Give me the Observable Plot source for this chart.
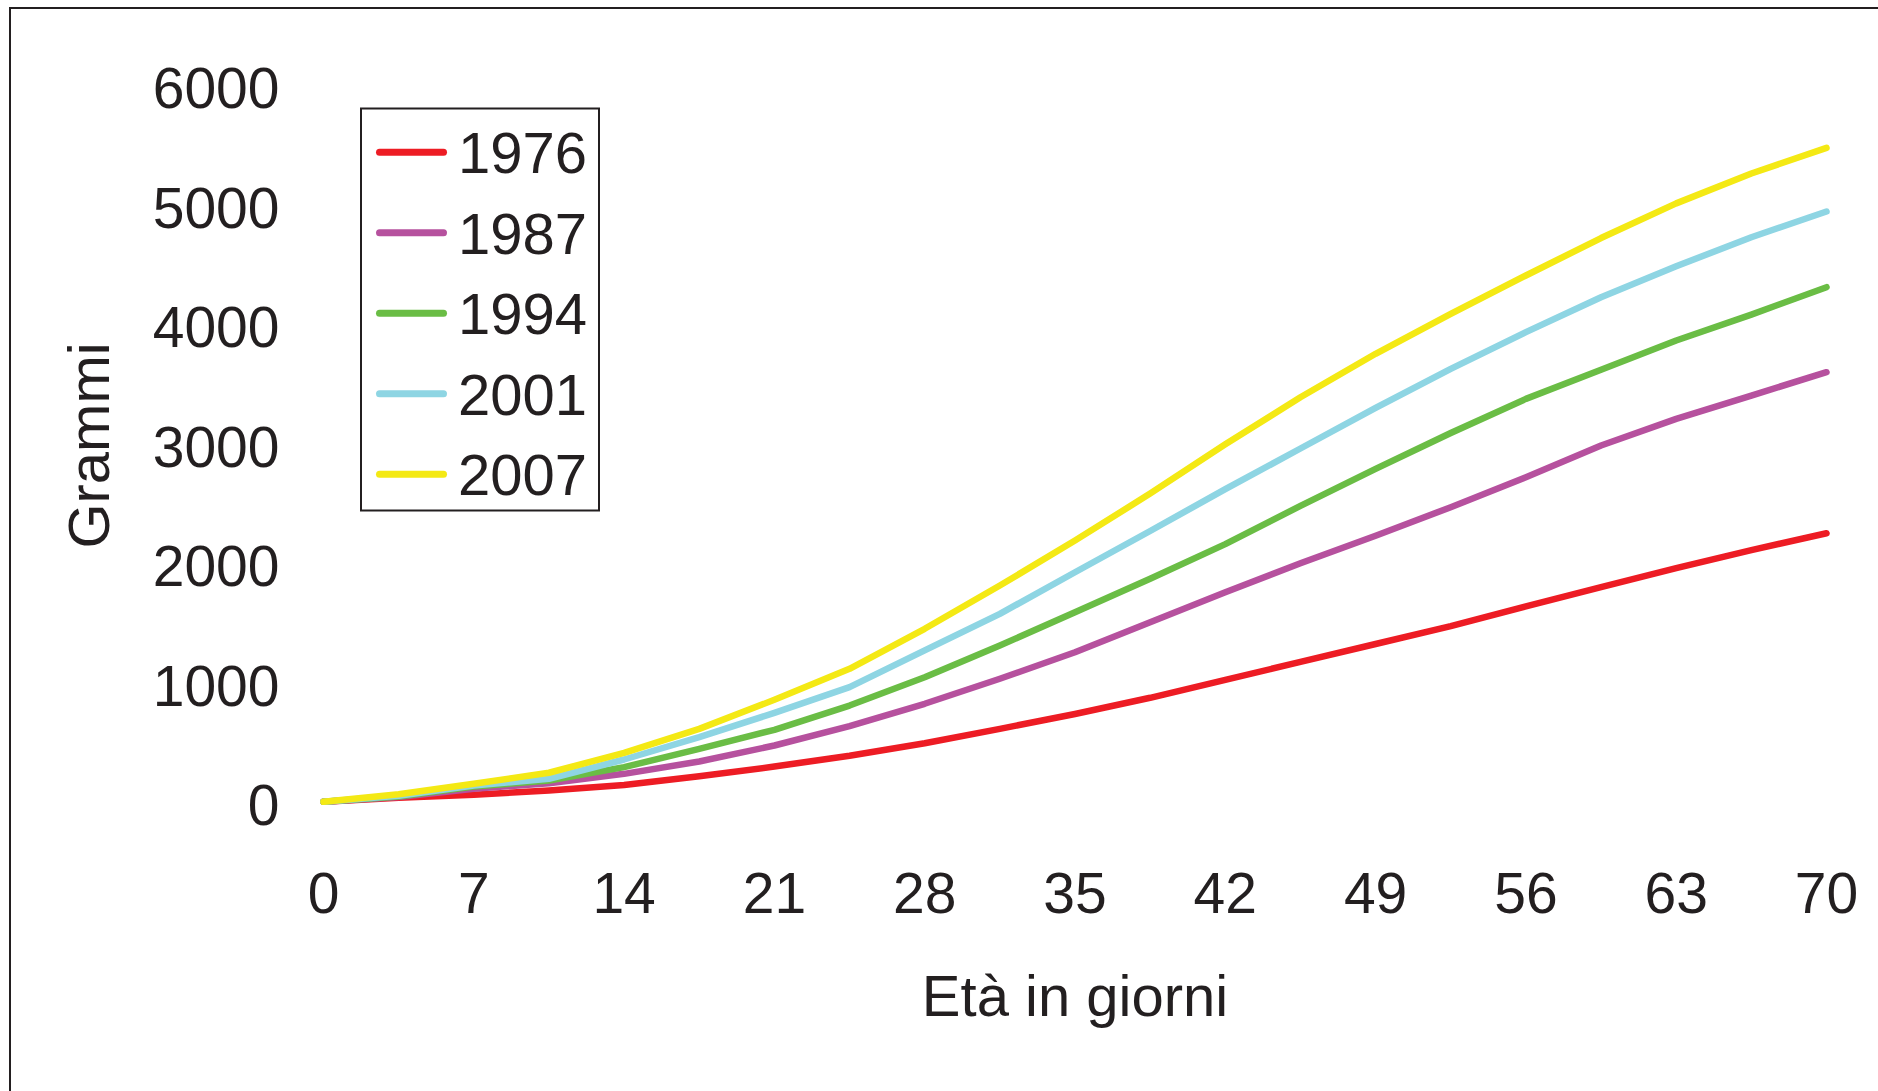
<!DOCTYPE html>
<html>
<head>
<meta charset="utf-8">
<script src="https://cdn.jsdelivr.net/npm/d3@7"></script>
<script src="https://cdn.jsdelivr.net/npm/@observablehq/plot@0.6"></script>
<style>
html, body { margin: 0; padding: 0; background: #fff; overflow: hidden; }
#wrap { position: relative; width: 1878px; height: 1091px; overflow: hidden; }
#chart { position: absolute; left: 0; top: 0; }
#frame { position: absolute; left: 9px; top: 7px; width: 1900px; height: 1100px;
  border-left: 2px solid #231f20; border-top: 2px solid #231f20; pointer-events: none; }
#legend { position: absolute; left: 0; top: 0; pointer-events: none; }
</style>
</head>
<body>
<div id="wrap"><div id="chart"></div><div id="frame"></div></div>
<script>
// ---- data ----
const days = [0, 3.5, 7, 10.5, 14, 17.5, 21, 24.5, 28, 31.5, 35, 38.5, 42, 45.5, 49, 52.5, 56, 59.5, 63, 66.5, 70];
const years = ["1976", "1987", "1994", "2001", "2007"];
const colors = ["#ed1c24", "#b6519e", "#6abd45", "#8ed5e3", "#f4e914"];
const w1976 = [45, 79, 104, 140, 185, 258, 340, 430, 535, 655, 780, 915, 1065, 1215, 1365, 1515, 1680, 1840, 2000, 2150, 2291];
const w1987 = [45, 85, 154, 201, 279, 382, 516, 678, 865, 1074, 1296, 1547, 1798, 2040, 2270, 2509, 2760, 3025, 3248, 3443, 3638];
const w1994 = [45, 90, 173, 223, 335, 488, 647, 850, 1087, 1352, 1631, 1910, 2200, 2520, 2830, 3130, 3415, 3658, 3903, 4120, 4349];
const w2001 = [45, 95, 181, 237, 399, 586, 789, 1004, 1311, 1617, 1965, 2310, 2660, 3000, 3340, 3666, 3973, 4265, 4524, 4767, 4982];
const w2007 = [45, 109, 196, 288, 455, 655, 898, 1157, 1492, 1854, 2230, 2623, 3035, 3429, 3792, 4126, 4447, 4760, 5050, 5300, 5514];
const xTicks = [0, 7, 14, 21, 28, 35, 42, 49, 56, 63, 70];
const yTicks = [0, 1000, 2000, 3000, 4000, 5000, 6000];
const xLabel = "Età in giorni";
const yLabel = "Grammi";

const series = [w1976, w1987, w1994, w2001, w2007];
const data = years.flatMap((yr, i) => days.map((d, j) => ({day: d, weight: series[i][j], year: yr})));

const ink = "#231f20";
const font = "'Liberation Sans', Arial, Helvetica, sans-serif";

const chart = Plot.plot({
  width: 1878,
  height: 1091,
  marginLeft: 323,
  marginRight: 52,
  marginTop: 89.3,
  marginBottom: 284.3,
  style: {fontFamily: font, color: ink, background: "transparent", overflow: "visible"},
  x: {domain: [0, 70]},
  y: {domain: [0, 6000]},
  color: {domain: years, range: colors},
  marks: [
    Plot.axisX(xTicks, {tickSize: 0, tickPadding: 65, fontSize: 57, label: null, fill: ink, tickFormat: d => String(d)}),
    Plot.axisY(yTicks, {tickSize: 0, tickPadding: 44, fontSize: 57, label: null, fill: ink, tickFormat: d => String(d)}),
    Plot.line(data, {x: "day", y: "weight", z: "year", stroke: "year", strokeWidth: 6.5,
      strokeLinecap: "round", strokeLinejoin: "round"}),
    Plot.text([yLabel], {text: d => d, frameAnchor: "left", textAnchor: "middle", lineAnchor: "middle",
      rotate: -90, dx: -233, dy: -3, fontSize: 58, fill: ink}),
    Plot.text([xLabel], {text: d => d, frameAnchor: "bottom", textAnchor: "middle", lineAnchor: "middle",
      dy: 190.3, fontSize: 58, fill: ink})
  ]
});
document.getElementById("chart").appendChild(chart);

// ---- legend box inside the plot area ----
const colorScale = chart.scale("color");
const lg = d3.select("#wrap").append("svg")
  .attr("id", "legend")
  .attr("width", 1878).attr("height", 1091);
lg.append("rect")
  .attr("x", 361).attr("y", 108.5).attr("width", 238).attr("height", 402)
  .attr("fill", "#fff").attr("stroke", ink).attr("stroke-width", 2);
years.forEach((yr, i) => {
  const cy = 152.3 + i * 80.5;
  lg.append("line")
    .attr("x1", 379.5).attr("x2", 443.5).attr("y1", cy).attr("y2", cy)
    .attr("stroke", colorScale.apply(yr)).attr("stroke-width", 7).attr("stroke-linecap", "round");
  lg.append("text")
    .attr("x", 458).attr("y", cy + 20.8)
    .attr("font-family", font).attr("font-size", 58).attr("fill", ink)
    .text(yr);
});
</script>
</body>
</html>
